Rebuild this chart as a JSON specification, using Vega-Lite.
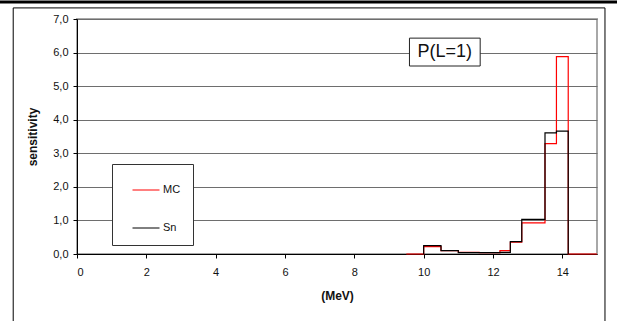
{
  "$schema": "https://vega.github.io/schema/vega-lite/v6.json",
  "width": 520,
  "height": 235,
  "autosize": "none",
  "padding": {"left": 77, "top": 19, "right": 20, "bottom": 67},
  "background": "white",
  "config": {
    "font": "Liberation Sans",
    "view": {"stroke": "#a8a8a8", "strokeWidth": 2},
    "axis": {"labelFont": "Liberation Sans", "titleFont": "Liberation Sans", "labelColor": "#111", "titleColor": "#111",
      "domainColor": "black", "tickColor": "black", "tickSize": 4, "labelFontSize": 11, "titleFontSize": 12, "titleFontWeight": "bold", "labelOverlap": false},
    "axisX": {"grid": false, "labelPadding": 8, "titlePadding": 13},
    "axisY": {"grid": true, "gridColor": "#6e6e6e", "gridOpacity": 1, "labelPadding": 5, "titlePadding": 13}
  },
  "datasets": {
    "hist": [
      {"series": "MC", "e": 9.5, "s": 0, "i": 0},
      {"series": "MC", "e": 10.0, "s": 0.22, "i": 1},
      {"series": "MC", "e": 10.5, "s": 0.1, "i": 2},
      {"series": "MC", "e": 11.0, "s": 0.05, "i": 3},
      {"series": "MC", "e": 11.6, "s": 0.04, "i": 4},
      {"series": "MC", "e": 12.2, "s": 0.1, "i": 5},
      {"series": "MC", "e": 12.5, "s": 0.35, "i": 6},
      {"series": "MC", "e": 12.83, "s": 0.93, "i": 7},
      {"series": "MC", "e": 13.5, "s": 3.29, "i": 8},
      {"series": "MC", "e": 13.83, "s": 5.88, "i": 9},
      {"series": "MC", "e": 14.17, "s": 0, "i": 10},
      {"series": "MC", "e": 15.0, "s": 0, "i": 11},
      {"series": "Sn", "e": 10.0, "s": 0, "i": 0},
      {"series": "Sn", "e": 10.0, "s": 0.25, "i": 1},
      {"series": "Sn", "e": 10.5, "s": 0.1, "i": 2},
      {"series": "Sn", "e": 11.0, "s": 0.04, "i": 3},
      {"series": "Sn", "e": 12.2, "s": 0.05, "i": 4},
      {"series": "Sn", "e": 12.5, "s": 0.37, "i": 5},
      {"series": "Sn", "e": 12.83, "s": 1.03, "i": 6},
      {"series": "Sn", "e": 13.5, "s": 3.61, "i": 7},
      {"series": "Sn", "e": 13.83, "s": 3.66, "i": 8},
      {"series": "Sn", "e": 14.17, "s": 0, "i": 9}
    ],
    "one": [{"k": 1}]
  },
  "layer": [
    {
      "data": {"name": "hist"},
      "mark": {"type": "line", "interpolate": "step-after", "strokeWidth": 1.2},
      "encoding": {
        "x": {
          "field": "e", "type": "quantitative",
          "scale": {"domain": [0, 15], "nice": false, "zero": false},
          "axis": {"values": [0, 2, 4, 6, 8, 10, 12, 14], "title": "(MeV)"}
        },
        "y": {
          "field": "s", "type": "quantitative",
          "scale": {"domain": [0, 7], "nice": false},
          "axis": {"values": [0, 1, 2, 3, 4, 5, 6, 7], "title": "sensitivity", "labelExpr": "replace(format(datum.value, '.1f'), '.', ',')"}
        },
        "order": {"field": "i", "type": "quantitative"},
        "color": {
          "field": "series", "type": "nominal",
          "scale": {"domain": ["MC", "Sn"], "range": ["#ff0000", "#000000"]},
          "legend": {
            "orient": "none",
            "legendX": 35,
            "legendY": 145,
            "title": null,
            "fillColor": "white",
            "strokeColor": "#333",
            "padding": 12,
            "symbolType": "stroke",
            "symbolSize": 729,
            "symbolStrokeWidth": 1,
            "symbolOffset": 8,
            "rowPadding": 19,
            "labelFontSize": 11,
            "labelColor": "#111",
            "labelOffset": 3,
            "labelExpr": "datum.label + '   '"
          }
        }
      }
    },
    {
      "data": {"name": "one"},
      "mark": {"type": "rule", "color": "black", "strokeWidth": 1, "clip": false},
      "encoding": {
        "x": {"datum": -1.84, "type": "quantitative", "axis": {"values": [0, 2, 4, 6, 8, 10, 12, 14], "title": "(MeV)"}},
        "y": {"datum": 7.33, "type": "quantitative", "axis": {"values": [0, 1, 2, 3, 4, 5, 6, 7], "title": "sensitivity", "labelExpr": "replace(format(datum.value, '.1f'), '.', ',')"}},
        "y2": {"datum": -2.1}
      }
    },
    {
      "data": {"name": "one"},
      "mark": {"type": "rule", "color": "black", "strokeWidth": 1, "clip": false},
      "encoding": {
        "x": {"datum": 15.23, "type": "quantitative", "axis": {"values": [0, 2, 4, 6, 8, 10, 12, 14], "title": "(MeV)"}},
        "y": {"datum": 7.33, "type": "quantitative", "axis": {"values": [0, 1, 2, 3, 4, 5, 6, 7], "title": "sensitivity", "labelExpr": "replace(format(datum.value, '.1f'), '.', ',')"}},
        "y2": {"datum": -2.1}
      }
    },
    {
      "data": {"name": "one"},
      "mark": {"type": "rule", "color": "black", "strokeWidth": 1, "clip": false},
      "encoding": {
        "x": {"datum": -1.84, "type": "quantitative", "axis": {"values": [0, 2, 4, 6, 8, 10, 12, 14], "title": "(MeV)"}},
        "x2": {"datum": 15.23},
        "y": {"datum": 7.33, "type": "quantitative", "axis": {"values": [0, 1, 2, 3, 4, 5, 6, 7], "title": "sensitivity", "labelExpr": "replace(format(datum.value, '.1f'), '.', ',')"}}
      }
    },
    {
      "data": {"name": "one"},
      "mark": {"type": "rule", "color": "black", "strokeWidth": 3, "clip": false},
      "encoding": {
        "x": {"datum": -2.3, "type": "quantitative", "axis": {"values": [0, 2, 4, 6, 8, 10, 12, 14], "title": "(MeV)"}},
        "x2": {"datum": 15.7},
        "y": {"datum": 7.51, "type": "quantitative", "axis": {"values": [0, 1, 2, 3, 4, 5, 6, 7], "title": "sensitivity", "labelExpr": "replace(format(datum.value, '.1f'), '.', ',')"}}
      }
    },
    {
      "data": {"name": "one"},
      "mark": {"type": "rect", "fill": "white", "stroke": "#222", "strokeWidth": 1},
      "encoding": {
        "x": {"datum": 9.59, "type": "quantitative", "axis": {"values": [0, 2, 4, 6, 8, 10, 12, 14], "title": "(MeV)"}},
        "x2": {"datum": 11.63},
        "y": {"datum": 6.43, "type": "quantitative", "axis": {"values": [0, 1, 2, 3, 4, 5, 6, 7], "title": "sensitivity", "labelExpr": "replace(format(datum.value, '.1f'), '.', ',')"}},
        "y2": {"datum": 5.6}
      }
    },
    {
      "data": {"name": "one"},
      "mark": {"type": "text", "text": "P(L=1)", "fontSize": 18, "font": "Liberation Sans", "color": "#111", "align": "center", "baseline": "middle"},
      "encoding": {
        "x": {"datum": 10.61, "type": "quantitative", "axis": {"values": [0, 2, 4, 6, 8, 10, 12, 14], "title": "(MeV)"}},
        "y": {"datum": 6.01, "type": "quantitative", "axis": {"values": [0, 1, 2, 3, 4, 5, 6, 7], "title": "sensitivity", "labelExpr": "replace(format(datum.value, '.1f'), '.', ',')"}}
      }
    }
  ]
}
